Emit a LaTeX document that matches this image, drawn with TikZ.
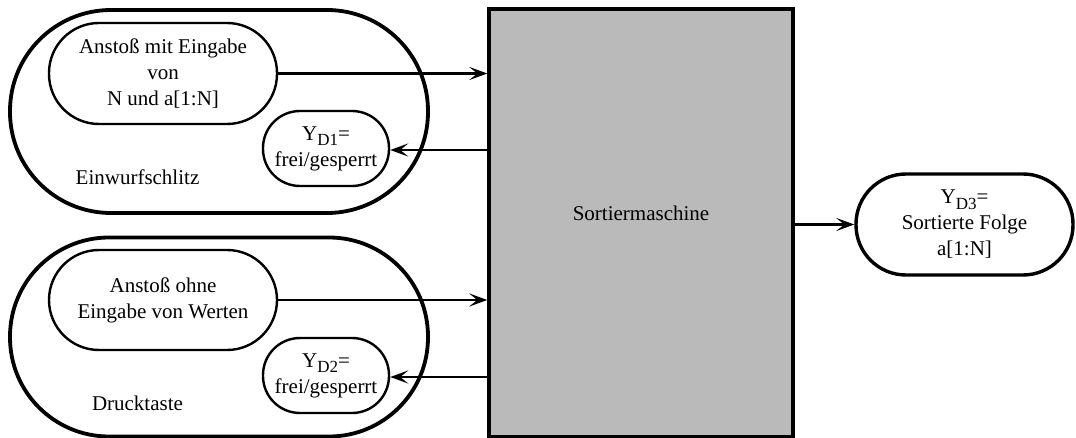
\documentclass[tikz,border=0pt]{standalone}
\usepackage{fontspec}
\setmainfont{Liberation Serif}
\usetikzlibrary{arrows.meta}
\newcommand\lowsub[1]{\raisebox{-0.28em}{\fontsize{17}{17}\selectfont #1}}
\begin{document}
\begin{tikzpicture}[x=1pt,y=-1pt,
  txt/.style={font=\fontsize{21}{26}\selectfont, align=center},
  outerpill/.style={draw, line width=3.8pt, inner sep=0pt},
  innerpill/.style={draw, line width=2.4pt, inner sep=0pt, txt},
  machine/.style={draw, line width=3.4pt, fill=black!27, inner sep=0pt},
  arr/.style={line width=2.4pt, -{Stealth[length=18pt,width=13pt,inset=8pt]}}
]
\useasboundingbox (0,0) rectangle (1076,438);
% outer containers
\node[outerpill, minimum width=418pt, minimum height=203pt, rounded corners=101pt] (o1) at (219,111.5) {};
\node[outerpill, minimum width=418pt, minimum height=199pt, rounded corners=99pt] (o2) at (219,337) {};
% machine
\node[machine, minimum width=304pt, minimum height=428pt] (box) at (641,223) {};
\node[txt] (boxlabel) at (641,213) {Sortiermaschine};
% inner pills
\node[innerpill, minimum width=228pt, minimum height=101pt, rounded corners=50pt] (in1) at (163,73.5) {Anstoß mit Eingabe\\von\\N und a[1:N]};
\node[innerpill, minimum width=126pt, minimum height=75pt, rounded corners=37pt] (yd1) at (326,148.5) {Y\lowsub{D1}=\\frei/gesperrt};
\node[innerpill, minimum width=228pt, minimum height=100pt, rounded corners=50pt] (in2) at (163,300) {Anstoß ohne\\Eingabe von Werten};
\node[innerpill, minimum width=126pt, minimum height=75pt, rounded corners=37pt] (yd2) at (326,375.5) {Y\lowsub{D2}=\\frei/gesperrt};
\node[txt] (l1) at (137.5,177) {Einwurfschlitz};
\node[txt] (l2) at (137.5,403) {Drucktaste};
% output
\node[draw, line width=3.4pt, inner sep=0pt, txt, minimum width=217pt, minimum height=101pt, rounded corners=50pt] (yd3) at (964.5,224.5) {Y\lowsub{D3}=\\Sortierte Folge\\a[1:N]};
% arrows
\draw[arr] (in1.east) -- (in1.east -| box.west);
\draw[arr] (box.west |- 0,150) -- (yd1.east |- 0,150);
\draw[arr] (in2.east) -- (in2.east -| box.west);
\draw[arr] (box.west |- 0,377) -- (yd2.east |- 0,377);
\draw[arr] (box.east |- yd3.west) -- (yd3.west);
\end{tikzpicture}
\end{document}
